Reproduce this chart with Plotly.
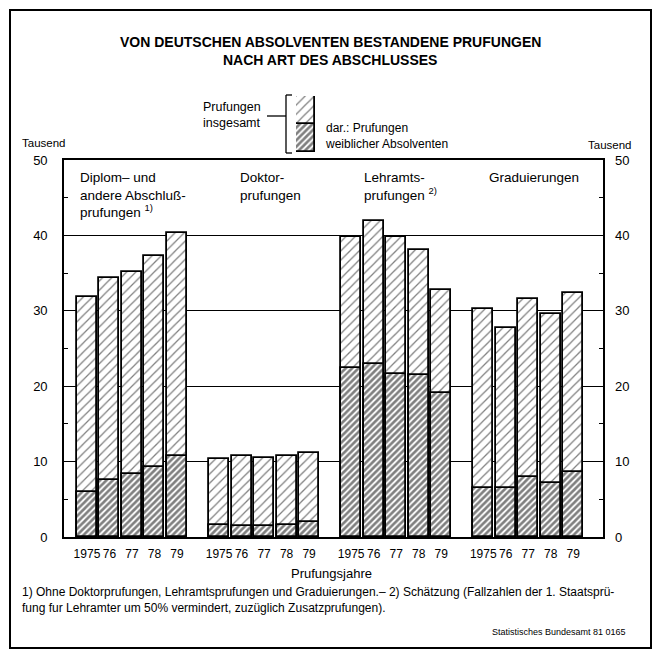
"""
Von deutschen Absolventen bestandene Prüfungen nach Art des Abschlusses
"""

import plotly.graph_objects as go

years = ["1975", "76", "77", "78", "79"]
group_labels = [
    "Diplom– und<br>andere Abschluß-<br>prufungen <sup>1)</sup>",
    "Doktor-<br>prufungen",
    "Lehramts-<br>prufungen <sup>2)</sup>",
    "Graduierungen",
]

total_diplom = [31.8, 34.3, 35.2, 37.3, 40.3]
women_diplom = [6.0, 7.5, 8.4, 9.3, 10.8]
total_doktor = [10.4, 10.7, 10.5, 10.8, 11.2]
women_doktor = [1.6, 1.5, 1.5, 1.6, 2.0]
total_lehramt = [39.8, 41.9, 39.8, 38.1, 32.8]
women_lehramt = [22.4, 22.9, 21.6, 21.5, 19.1]
total_grad = [30.3, 27.7, 31.5, 29.6, 32.3]
women_grad = [6.5, 6.5, 8.0, 7.1, 8.6]

totals = [total_diplom, total_doktor, total_lehramt, total_grad]
women = [women_diplom, women_doktor, women_lehramt, women_grad]

FONT = "Liberation Sans, Arial, sans-serif"
W, H = 658, 651
L, R, T, B = 64, 55, 20, 114
PW, PH = W - L - R, H - T - B
GROUP_STEP = 5.87


def px(x):
    return (x - L) / PW


def py(y):
    return (H - B - y) / PH


main_top = py(160)

light = dict(shape="/", size=6.5, solidity=0.2, fgcolor="black", bgcolor="white")
dark = dict(shape="/", size=4.5, solidity=0.6, fgcolor="black", bgcolor="white")

pos, tot, wom, ticks = [], [], [], []
for g in range(4):
    for i in range(5):
        pos.append(g * GROUP_STEP + i)
        tot.append(totals[g][i])
        wom.append(women[g][i])
        ticks.append(years[i])

fig = go.Figure()

fig.add_trace(go.Bar(
    x=pos, y=tot, width=0.89,
    marker=dict(color="white", pattern=light, line=dict(color="black", width=1.8)),
    showlegend=False, hoverinfo="y",
))
fig.add_trace(go.Bar(
    x=pos, y=wom, width=0.89,
    marker=dict(color="white", pattern=dark, line=dict(color="black", width=1.8)),
    showlegend=False, hoverinfo="y",
))
# leere Spur für die rechte Achse
fig.add_trace(go.Scatter(x=[None], y=[None], yaxis="y2", showlegend=False, hoverinfo="skip"))

# Legendenbalken in eigener Mini-Achse
fig.add_trace(go.Bar(
    x=[0], y=[1], width=1, xaxis="x3", yaxis="y3",
    marker=dict(color="white", pattern=light, line=dict(color="black", width=1.8)),
    showlegend=False, hoverinfo="skip",
))
fig.add_trace(go.Bar(
    x=[0], y=[0.5], width=1, xaxis="x3", yaxis="y3",
    marker=dict(color="white", pattern=dark, line=dict(color="black", width=1.8)),
    showlegend=False, hoverinfo="skip",
))

tick_font = dict(family=FONT, size=13, color="black")

fig.update_layout(
    width=W, height=H,
    margin=dict(l=L, r=R, t=T, b=B),
    paper_bgcolor="white", plot_bgcolor="white",
    barmode="overlay",
    font=dict(family=FONT, color="black"),
    xaxis=dict(
        range=[-1.02, 22.93], domain=[0, 1],
        tickvals=pos, ticktext=ticks, tickangle=0,
        tickfont=dict(family=FONT, size=12, color="black"),
        ticks="", showgrid=False, zeroline=False,
        showline=True, mirror=True, linecolor="black", linewidth=1.6,
        ticklabelstandoff=5,
    ),
    yaxis=dict(
        range=[0, 50], domain=[0, main_top],
        tickvals=[0, 10, 20, 30, 40, 50], tickfont=tick_font,
        ticks="", showgrid=True, gridcolor="black", gridwidth=1.2, zeroline=False,
        showline=True, mirror=True, linecolor="black", linewidth=1.6,
        ticklabelstandoff=12,
        minor=dict(tickvals=[5, 15, 25, 35, 45], ticks="inside", ticklen=4,
                   tickcolor="black", tickwidth=1, showgrid=False),
    ),
    yaxis2=dict(
        range=[0, 50], overlaying="y", side="right", anchor="x",
        tickvals=[0, 10, 20, 30, 40, 50], tickfont=tick_font,
        ticks="", showgrid=False, zeroline=False, showline=False,
        ticklabelstandoff=11,
        minor=dict(tickvals=[5, 15, 25, 35, 45], ticks="inside", ticklen=4,
                   tickcolor="black", tickwidth=1, showgrid=False),
    ),
    xaxis3=dict(domain=[px(296), px(315)], range=[-0.5, 0.5], anchor="y3", visible=False),
    yaxis3=dict(domain=[py(152), py(96)], range=[0, 1], anchor="x3", visible=False),
    bargap=0,
)

ann = []


def text(x, y, s, size=12, xanchor="left", bold=False, align="left"):
    if bold:
        s = "<b>" + s + "</b>"
    ann.append(dict(
        x=px(x), y=py(y), xref="paper", yref="paper", text=s, showarrow=False,
        xanchor=xanchor, yanchor="middle", align=align,
        font=dict(family=FONT, size=size, color="black"),
    ))


text(330, 42, "VON DEUTSCHEN ABSOLVENTEN BESTANDENE PRUFUNGEN", size=14, xanchor="center", bold=True)
text(330, 60, "NACH ART DES ABSCHLUSSES", size=14, xanchor="center", bold=True)

text(263, 115, "Prufungen<br>insgesamt", size=12.5, xanchor="right", align="left")
text(323, 136, "dar.: Prufungen<br>weiblicher Absolventen", size=12)

text(20, 143, "Tausend", size=11.5)
text(633, 145, "Tausend", size=11.5, xanchor="right")

group_x = [78, 238, 362, 487]
for gx, lab in zip(group_x, group_labels):
    ann.append(dict(
        x=px(gx), y=py(168), xref="paper", yref="paper", text=lab, showarrow=False,
        xanchor="left", yanchor="top", align="left",
        font=dict(family=FONT, size=13.5, color="black"),
    ))

text(331, 573, "Prufungsjahre", size=13, xanchor="center")
text(20, 600,
     "1) Ohne Doktorprufungen, Lehramtsprufungen und Graduierungen.– 2) Schätzung (Fallzahlen der 1. Staatsprü-<br>"
     "fung fur Lehramter um 50% vermindert, zuzüglich Zusatzprufungen).",
     size=12)
text(628, 632, "Statistisches Bundesamt 81 0165", size=9, xanchor="right")

fig.update_layout(annotations=ann)

# Klammer der Legende und äußerer Rahmen
line = dict(color="black", width=1.3)
shapes = [
    dict(type="line", xref="paper", yref="paper", x0=px(286), x1=px(286), y0=py(95), y1=py(153), line=line),
    dict(type="line", xref="paper", yref="paper", x0=px(286), x1=px(292), y0=py(95), y1=py(95), line=line),
    dict(type="line", xref="paper", yref="paper", x0=px(286), x1=px(292), y0=py(153), y1=py(153), line=line),
    dict(type="line", xref="paper", yref="paper", x0=px(267), x1=px(286), y0=py(116), y1=py(116), line=line),
    dict(type="rect", xref="paper", yref="paper", x0=px(10), x1=px(651), y0=py(10), y1=py(648),
         line=dict(color="black", width=2)),
]
fig.update_layout(shapes=shapes)

fig.write_html("out.html", config={"displayModeBar": False},
               post_script="document.body.style.margin='0';")
